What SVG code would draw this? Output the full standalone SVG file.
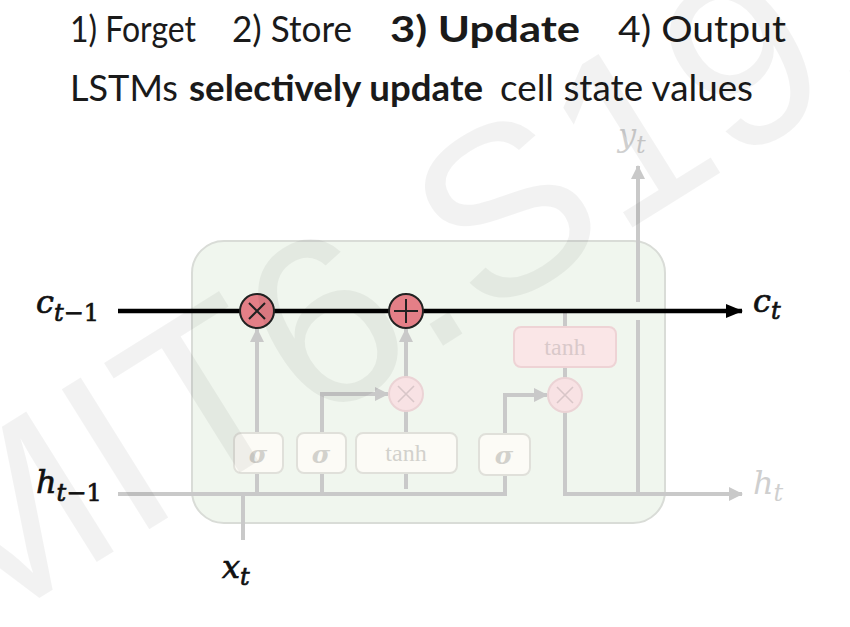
<svg xmlns="http://www.w3.org/2000/svg" width="850" height="627" viewBox="0 0 850 627">
<defs>
<style>
.title{font-family:Lato,"Open Sans",sans-serif;font-size:37px;fill:#1a1a1a}
.b{font-weight:bold}
.gl{fill:none;stroke:#c9c9c9;stroke-width:4}
.gate{fill:#fcfbf6;stroke:#e0e0da;stroke-width:2}
.sig{font-family:"DejaVu Serif",serif;font-style:italic;font-weight:bold;font-size:25px;fill:#d2d1cc;text-anchor:middle}
.tanh{font-family:"Liberation Serif",serif;font-size:24px;fill:#d2d1cc;text-anchor:middle}
.lab{font-family:"DejaVu Serif",serif;font-style:italic;fill:#111;stroke:#111;stroke-width:0.7}
.glab{font-family:"DejaVu Serif",serif;font-style:italic;fill:#cfcfcf}
.up{font-style:normal}
</style>
<marker id="ga" markerUnits="userSpaceOnUse" markerWidth="16" markerHeight="16" refX="13" refY="8" orient="auto"><path d="M0,1 L14,8 L0,15 Z" fill="#c9c9c9"/></marker>
<marker id="ba" markerUnits="userSpaceOnUse" markerWidth="18" markerHeight="18" refX="16" refY="9" orient="auto"><path d="M0,2 L17,9 L0,16 Z" fill="#000"/></marker>
</defs>
<rect width="850" height="627" fill="#fff"/>
<g id="title">
<text class="title" y="42"><tspan x="70" textLength="126" lengthAdjust="spacingAndGlyphs">1) Forget</tspan><tspan x="232" textLength="120" lengthAdjust="spacingAndGlyphs">2) Store</tspan><tspan class="b" x="390" textLength="190" lengthAdjust="spacingAndGlyphs">3) Update</tspan><tspan x="618" textLength="168" lengthAdjust="spacingAndGlyphs">4) Output</tspan></text>
<text class="title" y="101"><tspan x="70" textLength="108" lengthAdjust="spacingAndGlyphs">LSTMs</tspan><tspan class="b" x="189" textLength="294" lengthAdjust="spacingAndGlyphs">selectively update</tspan><tspan x="500" textLength="253" lengthAdjust="spacingAndGlyphs">cell state values</tspan></text>
</g>
<g id="cell"><rect x="192" y="241" width="473" height="282" rx="32" fill="#f0f6ee" stroke="#d9dcd7" stroke-width="2"/></g>
<g id="connectors">
<polyline class="gl" points="118,494 505,494 505,475"/>
<line class="gl" x1="257" y1="494" x2="257" y2="473"/>
<line class="gl" x1="322" y1="494" x2="322" y2="473"/>
<line class="gl" x1="406" y1="473" x2="406" y2="489"/>
<line class="gl" x1="243" y1="494" x2="243" y2="540"/>
<line class="gl" x1="257" y1="433" x2="257" y2="329" marker-end="url(#ga)"/>
<line class="gl" x1="406" y1="433" x2="406" y2="411"/>
<line class="gl" x1="406" y1="377" x2="406" y2="329" marker-end="url(#ga)"/>
<polyline class="gl" points="322,433 322,394 388,394" marker-end="url(#ga)"/>
<polyline class="gl" points="505,434 505,395 547,395" marker-end="url(#ga)"/>
<line class="gl" x1="565" y1="311" x2="565" y2="327"/>
<line class="gl" x1="565" y1="367" x2="565" y2="378"/>
<polyline class="gl" points="565,412 565,494 742,494" marker-end="url(#ga)"/>
<line class="gl" x1="638" y1="494" x2="638" y2="320"/>
<line class="gl" x1="638" y1="302" x2="638" y2="166" marker-end="url(#ga)"/>
<line x1="118" y1="311" x2="742" y2="311" stroke="#000" stroke-width="4.5" marker-end="url(#ba)"/>
</g>
<g id="gate-f"><rect class="gate" x="234" y="433" width="49" height="40" rx="7"/><text class="sig" x="258" y="463">σ</text></g>
<g id="gate-i"><rect class="gate" x="297" y="433" width="49" height="40" rx="7"/><text class="sig" x="321" y="463">σ</text></g>
<g id="gate-g"><rect class="gate" x="356" y="433" width="101" height="40" rx="7"/><text class="tanh" x="406" y="461">tanh</text></g>
<g id="gate-o"><rect class="gate" x="479" y="434" width="51" height="41" rx="7"/><text class="sig" x="504" y="464">σ</text></g>
<g id="tanh-out"><rect x="514" y="327" width="102" height="40" rx="7" fill="#fae6e7" stroke="#eed3d5" stroke-width="2"/><text class="tanh" x="565" y="355" style="fill:#d9c9ca">tanh</text></g>
<g id="mul-f"><circle cx="257" cy="311" r="17" fill="#e47f87" stroke="#222" stroke-width="2"/><path d="M249,303 L265,319 M265,303 L249,319" stroke="#222" stroke-width="2"/></g>
<g id="add"><circle cx="406" cy="311" r="17" fill="#e47f87" stroke="#222" stroke-width="2"/><path d="M406,299 V323 M394,311 H418" stroke="#222" stroke-width="2"/></g>
<g id="mul-i"><circle cx="406" cy="394" r="17" fill="#f8e2e4" stroke="#ebd3d5" stroke-width="2"/><path d="M398,386 L414,402 M414,386 L398,402" stroke="#d8c6c8" stroke-width="1.6"/></g>
<g id="mul-o"><circle cx="565" cy="395" r="17" fill="#f8e2e4" stroke="#ebd3d5" stroke-width="2"/><path d="M557,387 L573,403 M573,387 L557,403" stroke="#d8c6c8" stroke-width="1.6"/></g>
<g id="labels">
<text class="lab" x="36" y="313" font-size="32">c<tspan font-size="24" dy="8">t<tspan class="up">−1</tspan></tspan></text>
<text class="lab" x="36" y="493" font-size="32">h<tspan font-size="24" dy="8">t<tspan class="up">−1</tspan></tspan></text>
<text class="lab" x="222" y="578" font-size="32">x<tspan font-size="24" dy="7">t</tspan></text>
<text class="lab" x="753" y="312" font-size="32">c<tspan font-size="24" dy="7">t</tspan></text>
<text class="glab" x="753" y="494" font-size="32">h<tspan font-size="24" dy="7">t</tspan></text>
<text class="glab" x="618" y="146" font-size="32">y<tspan font-size="24" dy="7">t</tspan></text>
</g>
<text transform="translate(-39,647) rotate(-32)" font-family="Liberation Sans, sans-serif" font-size="240" fill="#000" fill-opacity="0.05">MIT6.S191</text>
</svg>
